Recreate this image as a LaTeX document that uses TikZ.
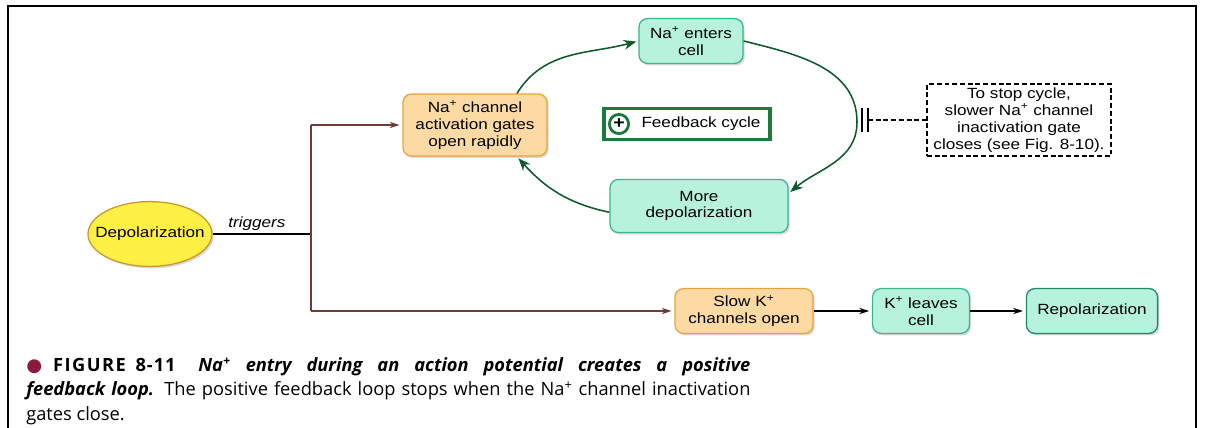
\documentclass[tikz,border=0pt]{standalone}
\usepackage{fontspec}
\setmainfont{Liberation Sans}
\newfontfamily\diagfont[FakeStretch=1.16]{Liberation Sans}
\newfontfamily\capfont{Open Sans}
\newfontfamily\symfont{DejaVu Sans}
\usetikzlibrary{shapes.geometric,shadows,arrows.meta}
\definecolor{orfill}{HTML}{FDDAA3}
\definecolor{ordraw}{HTML}{E5A540}
\definecolor{tlfill}{HTML}{B7F3DC}
\definecolor{tldraw}{HTML}{3AB58C}
\definecolor{tldark}{HTML}{1E8765}
\definecolor{cycgreen}{HTML}{0E5A2C}
\definecolor{fbgreen}{HTML}{1C7A3C}
\definecolor{trunk}{HTML}{6E3B3B}
\definecolor{ylfill}{HTML}{FFF046}
\definecolor{yldraw}{HTML}{C9972B}
\definecolor{bullred}{HTML}{8C1A3C}
\newcommand{\pl}{\textsuperscript{+}}

\begin{document}
\begin{tikzpicture}[x=0.025cm,y=-0.025cm,font=\diagfont\fontsize{10.5}{12}\selectfont]
		\tikzset{box/.style 2 args={draw=#2, fill=#1, rounded corners=6pt, line width=0.9pt, align=center, inner sep=2pt, drop shadow={shadow xshift=1.2pt, shadow yshift=-1.4pt, opacity=0.3}},
			cyc/.style={-{Stealth[length=9pt,width=7pt]}, cycgreen, line width=1.1pt, shorten >=1.5pt},
			flow/.style={-{Stealth[length=7pt,width=4.5pt]}, line width=0.8pt, shorten >=2pt}};
			\useasboundingbox (0,0) rectangle (1206,428);
			\draw[line width=1.5pt] (8,428) -- (8,6) -- (1196,6) -- (1196,428);
			
			\node[ellipse, draw=yldraw, fill=ylfill, line width=0.9pt, minimum width=3.1cm, minimum height=1.62cm, inner sep=0pt, drop shadow={shadow xshift=1.2pt, shadow yshift=-1.4pt, opacity=0.3}] (dep) at (150,234) {\makebox[1.5cm]{Depolarization}};
			\node[box={orfill}{ordraw}, minimum width=3.6cm, minimum height=1.55cm] (chan) at (475,125) {Na\pl{} channel\\activation gates\\open rapidly};
			\node[box={tlfill}{tldraw}, minimum width=2.6cm, minimum height=1.12cm] (enter) at (691,41) {Na\pl{} enters\\cell};
			\node[box={tlfill}{tldraw}, minimum width=4.45cm, minimum height=1.33cm] (more) at (699,206) {More\\depolarization};
			\node[draw=fbgreen, line width=2.2pt, minimum width=4.15cm, minimum height=0.78cm] (fb) at (687,124) {};
			\node[draw=fbgreen, circle, line width=2pt, minimum size=0.48cm, inner sep=0pt, font=\diagfont\bfseries\fontsize{12}{12}\selectfont] (plus) at (619,124) {+};
			\node (fbtxt) at (701,124) {Feedback cycle};
			\node[draw, dashed, dash pattern=on 3.5pt off 2pt, line width=0.9pt, align=center, minimum width=4.6cm, minimum height=1.8cm, inner sep=1pt] (stop) at (1019,120) {To stop cycle,\\slower Na\pl{} channel\\inactivation gate\\closes (see Fig. 8-10).};
			\node[box={orfill}{ordraw}, minimum width=3.45cm, minimum height=1.12cm] (slowk) at (744,311) {Slow K\pl\\channels open};
			\node[box={tlfill}{tldraw}, minimum width=2.42cm, minimum height=1.12cm] (kout) at (921,311) {K\pl{} leaves\\cell};
			\node[box={tlfill}{tldark}, minimum width=3.28cm, minimum height=1.12cm] (repol) at (1092,311) {Repolarization};
			
			\coordinate (fork) at (311,234);
			\coordinate (rim) at (857,122);
			\coordinate (blk) at (868,120);
			
			\draw[line width=0.9pt] (dep) -- node[above=-1pt, pos=0.45, font=\diagfont\itshape\fontsize{10.5}{12}\selectfont] {triggers} (fork);
			\draw[trunk, line width=0.9pt] (fork |- chan) -- (fork |- slowk);
			\draw[flow, trunk] (fork |- chan) -- (chan);
			\draw[flow, trunk] (fork |- slowk) -- (slowk);
			\draw[flow] (slowk) -- (kout);
			\draw[flow] (kout) -- (repol);
			
			\draw[cyc] (chan.37) to[out=58, in=195] (enter.west);
			\draw[cyc] (enter.east) to[out=-14, in=90] (rim) to[out=-90, in=40] (more.8);
			\draw[cyc] (more.184) to[out=168, in=-48] (chan.-37);
			
			\draw[line width=1.6pt] (blk) ++(-6,-12) -- ++(0,24) (blk) ++(0,-12) -- ++(0,24);
			\draw[dashed, dash pattern=on 3.5pt off 2pt, line width=0.9pt] (blk) -- (stop.west);
			
			\node[anchor=north west, text width=18.1cm, align=justify, inner sep=0pt, font=\capfont\fontsize{13}{17.6}\selectfont] (cap) at (26,357) {{\symfont\fontsize{13}{13}\selectfont\textcolor{bullred}{●}}\hspace{0.6em}\textbf{\addfontfeature{LetterSpace=8}FIGURE}\hspace{0.45em}\textbf{\addfontfeature{LetterSpace=5}8-11}\hspace{1.2em}\textbf{\textit{Na\textsuperscript{+} entry during an action potential creates a positive}}\linebreak \textbf{\textit{feedback loop.}} The positive feedback loop stops when the Na\textsuperscript{+} channel inactivation\linebreak gates close.};
		\end{tikzpicture}
\end{document}
